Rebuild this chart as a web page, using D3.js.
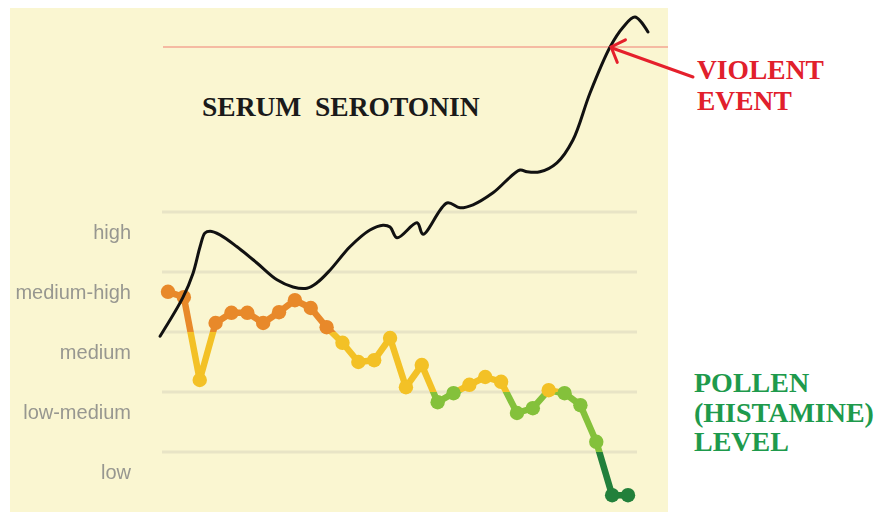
<!DOCTYPE html>
<html lang="en">
<head>
<meta charset="utf-8">
<title>Serum Serotonin vs Pollen</title>
<style>
  html, body { margin: 0; padding: 0; background: #fff; }
  svg { display: block; }
</style>
</head>
<body>
<div id="container"></div>
<script src="https://d3js.org/d3.v7.min.js"></script>
<script>
// pollen (histamine) level, one value per day, in level units (0 = bottom, 1 per band)
const pollenDays = d3.range(30)
const pollenLevel = [3.67, 3.58, 2.2, 3.15, 3.32, 3.32, 3.15, 3.33, 3.53, 3.4,
    3.08, 2.82, 2.5, 2.53, 2.9, 2.08, 2.45, 1.83, 1.98, 2.12,
    2.25, 2.17, 1.65, 1.73, 2.03, 1.98, 1.78, 1.17, 0.28, 0.28]

// hand drawn serotonin curve, same day / level units
const serotoninDay = [-0.5, 0.95, 1.58, 2.02, 2.33, 2.65, 3.28, 4.35, 5.61, 6.87,
    7.88, 8.76, 9.39, 10.21, 11.47, 12.73, 13.55, 14.0, 14.44, 15.7,
    16.08, 17.59, 18.41, 19.23, 20.49, 22.19, 22.63, 23.45, 24.52, 25.53,
    26.6, 27.87, 28.69, 29.44, 30.26]
const serotoninLevel = [2.93, 3.58, 3.98, 4.42, 4.65, 4.68, 4.62, 4.42, 4.15, 3.87,
    3.75, 3.73, 3.82, 4.03, 4.42, 4.7, 4.78, 4.75, 4.57, 4.82,
    4.63, 5.15, 5.07, 5.12, 5.32, 5.7, 5.67, 5.67, 5.82, 6.2,
    6.98, 7.75, 8.08, 8.25, 8.0]

const levelLabels = ["low", "low-medium", "medium", "medium-high", "high"]
const gridLevels = [1, 2, 3, 4, 5]
const violentLevel = 7.75
const violentDay = 27.87

// colour bands for the pollen line
const bandBreaks = [1, 2, 3]
const bandColors = ["#22803a", "#84c13a", "#f3c125", "#e8892b"]

const width = 879, height = 512

let svg = d3.select("#container").append("svg")
    .attr("width", width)
    .attr("height", height)

let x = d3.scaleLinear().domain([0, 29]).range([168, 628])
let y = d3.scaleLinear().domain([0, 8.5]).range([512, 2])
let bandColor = d3.scaleThreshold().domain(bandBreaks).range(bandColors)

let defs = svg.append("defs")
defs.append("filter").attr("id", "soft")
    .append("feGaussianBlur").attr("stdDeviation", 0.6)

// vertical gradient with hard stops, so the line changes colour at each band
let grad = defs.append("linearGradient")
    .attr("id", "bandGrad")
    .attr("gradientUnits", "userSpaceOnUse")
    .attr("x1", 0).attr("x2", 0)
    .attr("y1", y(0)).attr("y2", y(5))
let edges = [0].concat(bandBreaks).concat([5])
bandColors.forEach((c, i) => {
    grad.append("stop").attr("offset", edges[i] / 5).attr("stop-color", c)
    grad.append("stop").attr("offset", edges[i + 1] / 5).attr("stop-color", c)
})

// pale paper background
svg.append("rect")
    .attr("x", 10).attr("y", 8)
    .attr("width", 658).attr("height", height - 8)
    .attr("fill", "#faf6d1")

// grid
svg.append("g").selectAll("line")
    .data(gridLevels)
    .join("line")
    .attr("x1", 162).attr("x2", 637)
    .attr("y1", d => y(d)).attr("y2", d => y(d))
    .attr("stroke", "#e8e4c6")
    .attr("stroke-width", 3)

// level labels
let yAxis = d3.axisLeft(y)
    .tickValues(levelLabels.map((d, i) => i + 0.67))
    .tickFormat((d, i) => levelLabels[i])
    .tickSize(0)
    .tickPadding(0)
let axisG = svg.append("g")
    .attr("transform", "translate(131,0)")
    .attr("filter", "url(#soft)")
    .call(yAxis)
axisG.select(".domain").remove()
axisG.selectAll("text")
    .attr("fill", "#979790")
    .style("font-family", "'Liberation Sans', Arial, sans-serif")
    .style("font-size", "20px")

// violent event threshold
svg.append("line")
    .attr("x1", 163).attr("x2", 668)
    .attr("y1", y(violentLevel)).attr("y2", y(violentLevel))
    .attr("stroke", "#ef7f74")
    .attr("stroke-width", 1.2)

// pollen line + dots
let pollen = pollenDays.map((d, i) => [d, pollenLevel[i]])
let pollenG = svg.append("g").attr("filter", "url(#soft)")
pollenG.append("path")
    .datum(pollen)
    .attr("fill", "none")
    .attr("stroke", "url(#bandGrad)")
    .attr("stroke-width", 6.5)
    .attr("stroke-linejoin", "round")
    .attr("d", d3.line().x(d => x(d[0])).y(d => y(d[1])))
pollenG.selectAll("circle")
    .data(pollen)
    .join("circle")
    .attr("cx", d => x(d[0]))
    .attr("cy", d => y(d[1]))
    .attr("r", 7.2)
    .attr("fill", d => bandColor(d[1]))

// serotonin curve
let sero = serotoninDay.map((d, i) => [d, serotoninLevel[i]])
svg.append("path")
    .datum(sero)
    .attr("fill", "none")
    .attr("stroke", "#111")
    .attr("stroke-width", 3)
    .attr("stroke-linejoin", "round")
    .attr("stroke-linecap", "round")
    .attr("d", d3.line().x(d => x(d[0])).y(d => y(d[1])).curve(d3.curveCatmullRom.alpha(0.5)))

// annotations
const serif = "'Liberation Serif', 'Times New Roman', serif"
svg.append("text")
    .attr("x", 202).attr("y", 116)
    .attr("fill", "#1a1a1a")
    .style("font-family", serif)
    .style("font-weight", "bold")
    .style("font-size", "27.5px")
    .style("white-space", "pre")
    .text("SERUM  SEROTONIN")

let tipX = x(violentDay), tipY = y(violentLevel)
let tailX = 693, tailY = 77
let ang = Math.atan2(tailY - tipY, tailX - tipX)
let wing = 17, spread = Math.PI / 4
let arrow = svg.append("g")
    .attr("stroke", "#e5202c")
    .attr("stroke-width", 3)
    .attr("fill", "none")
    .attr("stroke-linecap", "round")
arrow.append("line")
    .attr("x1", tailX).attr("y1", tailY)
    .attr("x2", tipX + 2).attr("y2", tipY + 1)
arrow.append("path")
    .attr("d", "M" + (tipX + wing * Math.cos(ang - spread)) + "," + (tipY + wing * Math.sin(ang - spread))
        + "L" + (tipX + 1) + "," + tipY
        + "L" + (tipX + wing * Math.cos(ang + spread)) + "," + (tipY + wing * Math.sin(ang + spread)))

let violent = svg.append("text")
    .attr("fill", "#e1202c")
    .style("font-family", serif)
    .style("font-weight", "bold")
    .style("font-size", "27.5px")
violent.append("tspan").attr("x", 697).attr("y", 79).text("VIOLENT")
violent.append("tspan").attr("x", 697).attr("y", 110).text("EVENT")

let pollenTitle = svg.append("text")
    .attr("fill", "#1e9a4c")
    .style("font-family", serif)
    .style("font-weight", "bold")
    .style("font-size", "28px")
pollenTitle.append("tspan").attr("x", 694).attr("y", 392).text("POLLEN")
pollenTitle.append("tspan").attr("x", 694).attr("y", 422).text("(HISTAMINE)")
pollenTitle.append("tspan").attr("x", 694).attr("y", 451).text("LEVEL")
</script>
</body>
</html>
